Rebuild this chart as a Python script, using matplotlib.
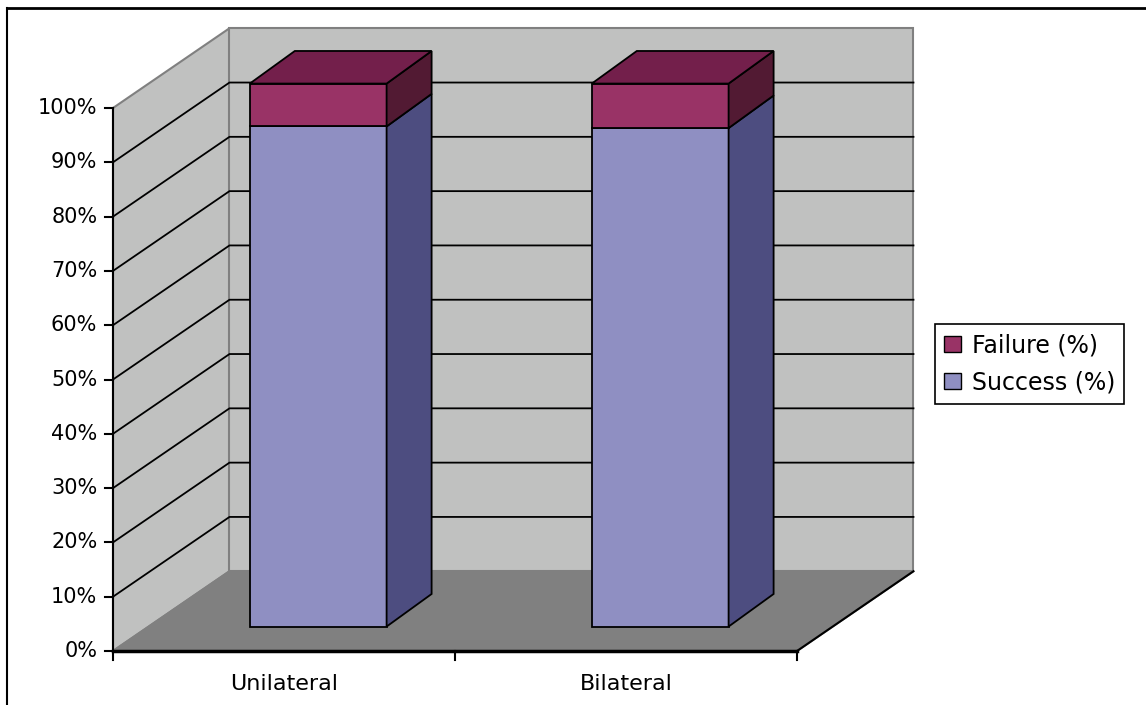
import matplotlib.pyplot as plt
from matplotlib.patches import Polygon, Patch

# -----------------------------------------------------------------------------
# data

categories = ['Unilateral', 'Bilateral']
success = [92.1, 91.8]   # %
failure = [7.9, 8.2]     # %
yticks = list(range(0, 101, 10))

# -----------------------------------------------------------------------------
# style / geometry of the pseudo 3d box (data units: category index, percent)

DX, DY = 0.3406, 14.69       # depth of walls and floor
BX0, BY0 = 0.1000, 4.50      # front plane of the bars
BX, BY = 0.1316, 6.0         # depth of the bars
W = 0.40                     # bar width
X0, X1 = -0.5, 1.5

wall = '#c0c1c0'
floor = '#808080'
edge_gray = '#808080'
col_success = ('#8f8fc2', '#4d4d80')     # front, side
col_failure = ('#993366', '#731f4b', '#521a33')  # front, top, side

plt.close('all')
fig = plt.figure(figsize=(11.46, 7.05), dpi=100)
ax = fig.add_axes([0, 0, 1, 1])
# pixel -> data:  u = (px-113)/342 - 0.5 ,  v = (651-py)/5.43
ax.set_xlim((0 - 113) / 342 - 0.5, (1146 - 113) / 342 - 0.5)
ax.set_ylim((651 - 705) / 5.43, (651 - 0) / 5.43)
ax.axis('off')

# outer frame (only top and left visible)
fig.add_artist(plt.Line2D([7 / 1146, 1], [1 - 7.5 / 705] * 2, color='black', lw=2))
fig.add_artist(plt.Line2D([7 / 1146] * 2, [0, 1 - 7.5 / 705], color='black', lw=1.5))


def poly(pts, fc, ec='black', lw=1.3, z=1):
    ax.add_patch(Polygon(pts, closed=True, facecolor=fc, edgecolor=ec,
                         linewidth=lw, zorder=z, joinstyle='miter'))


# walls
poly([(X0, 0), (X0, 100), (X0 + DX, 100 + DY), (X0 + DX, DY)], wall, edge_gray, 1.5)
poly([(X0 + DX, DY), (X1 + DX, DY), (X1 + DX, 100 + DY), (X0 + DX, 100 + DY)],
     wall, edge_gray, 1.5)

# gridlines
for v in yticks[1:-1]:
    ax.plot([X0, X0 + DX, X1 + DX], [v, v + DY, v + DY], color='black', lw=1.3, zorder=2)

# floor
poly([(X0, 0), (X1, 0), (X1 + DX, DY), (X0 + DX, DY)], floor, edge_gray, 1.5, z=3)
ax.plot([X1, X1 + DX], [0, DY], color='black', lw=1.5, zorder=3)

# stacked bars
for i, (s, f) in enumerate(zip(success, failure)):
    xl = i - W / 2 + BX0
    xr = i + W / 2 + BX0
    segs = [(0, s, col_success), (s, s + f, col_failure)]
    for lo, hi, col in segs:
        poly([(xl, lo + BY0), (xr, lo + BY0), (xr, hi + BY0), (xl, hi + BY0)], col[0], z=4)
        poly([(xr, lo + BY0), (xr + BX, lo + BY0 + BY), (xr + BX, hi + BY0 + BY),
              (xr, hi + BY0)], col[-1], z=4)
    top = s + f + BY0
    poly([(xl, top), (xr, top), (xr + BX, top + BY), (xl + BX, top + BY)],
         col_failure[1], z=4)

# axes lines and ticks
ax.plot([X0, X0], [0, 100], color='black', lw=1.5, zorder=5)
ax.plot([X0, X1], [0, 0], color='black', lw=2.5, zorder=5)
for v in yticks:
    ax.plot([X0 - 0.024, X0], [v, v], color='black', lw=1.5, zorder=5)
    ax.text(X0 - 0.046, v, f'{v}%', ha='right', va='center', fontsize=15)
for u in [X0, 0.5, X1]:
    ax.plot([u, u], [0, -1.7], color='black', lw=1.5, zorder=5)
for i, c in enumerate(categories):
    ax.text(i, -6.0, c, ha='center', va='center', fontsize=16)

# legend
handles = [Patch(facecolor=col_failure[0], edgecolor='black', label='Failure (%)'),
           Patch(facecolor=col_success[0], edgecolor='black', label='Success (%)')]
leg = fig.legend(handles=handles, loc='upper left',
                 bbox_to_anchor=(935 / 1146, 1 - 324 / 705), fontsize=17,
                 frameon=True, fancybox=False, edgecolor='black', framealpha=1,
                 handlelength=0.7, handleheight=0.7, handletextpad=0.45,
                 borderpad=0.4, labelspacing=0.55, borderaxespad=0)
leg.get_frame().set_linewidth(1.2)

fig.savefig('out.png', dpi=100)
